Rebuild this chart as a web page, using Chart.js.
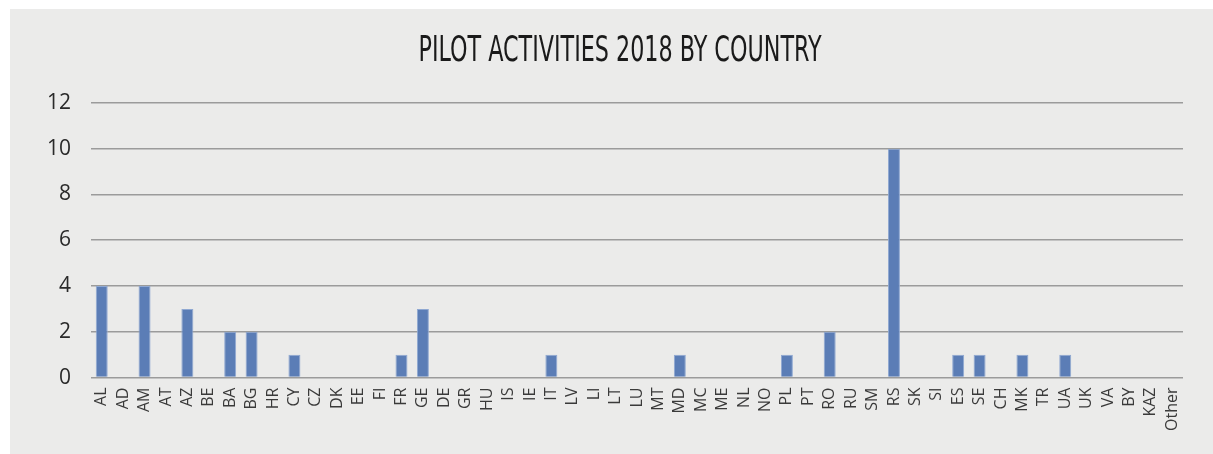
<!DOCTYPE html>
<html>
<head>
<meta charset="utf-8">
<script src="https://cdn.jsdelivr.net/npm/chart.js@4"></script>
<style>
  html, body { margin: 0; padding: 0; background: #ffffff; }
  #wrap { position: absolute; left: 10px; top: 9px; width: 1203px; height: 445px; background: #ebebea; }
</style>
</head>
<body>
<div id="wrap"><canvas id="pilotChart" width="1203" height="445"></canvas></div>
<script>
// country codes along the x axis
const countries = ['AL', 'AD', 'AM', 'AT', 'AZ', 'BE', 'BA', 'BG', 'HR', 'CY', 'CZ', 'DK', 'EE', 'FI', 'FR', 'GE',
  'DE', 'GR', 'HU', 'IS', 'IE', 'IT', 'LV', 'LI', 'LT', 'LU', 'MT', 'MD', 'MC', 'ME', 'NL', 'NO', 'PL', 'PT', 'RO',
  'RU', 'SM', 'RS', 'SK', 'SI', 'ES', 'SE', 'CH', 'MK', 'TR', 'UA', 'UK', 'VA', 'BY', 'KAZ', 'Other'];

// number of pilot activities per country
const activities = [4, 0, 4, 0, 3, 0, 2, 2, 0, 1, 0, 0, 0, 0, 1, 3,
  0, 0, 0, 0, 0, 1, 0, 0, 0, 0, 0, 1, 0, 0, 0, 0, 1, 0, 2,
  0, 0, 10, 0, 0, 1, 1, 0, 1, 0, 1, 0, 0, 0, 0, 0];

const yTicks = [0, 2, 4, 6, 8, 10, 12];
const chartTitle = 'PILOT ACTIVITIES 2018 BY COUNTRY';

// title in a condensed look: squeeze the text horizontally
const narrowTitle = {
  id: 'narrowTitle',
  afterDraw(chart) {
    const c = chart.ctx;
    c.save();
    c.font = '35px "DejaVu Sans Condensed", "Liberation Sans", sans-serif';
    c.fillStyle = '#1a1a1a';
    c.textAlign = 'center';
    c.textBaseline = 'alphabetic';
    const w = c.measureText(chartTitle).width;
    const sx = 403 / w;
    c.translate(610, 52);
    c.scale(sx, 1);
    c.fillText(chartTitle, 0, 0);
    c.restore();
  },
};

const ctx = document.getElementById('pilotChart').getContext('2d');
new Chart(ctx, {
  type: 'bar',
  data: {
    labels: countries,
    datasets: [
      {
        label: 'Pilot activities',
        data: activities,
        backgroundColor: '#5b7db6',
        borderColor: '#8fa8d2',
        borderWidth: 1,
        categoryPercentage: 1,
        barPercentage: 0.56,
      },
    ],
  },
  options: {
    responsive: false,
    animation: false,
    layout: { padding: { left: 17, right: 30, top: 94, bottom: 21 } },
    plugins: {
      legend: { display: false },
      tooltip: { enabled: false },
      title: { display: false },
    },
    scales: {
      x: {
        grid: { display: false },
        border: { display: false },
        ticks: {
          color: '#3a3a3a',
          font: { family: '"Open Sans", sans-serif', size: 16 },
          minRotation: 90,
          maxRotation: 90,
          autoSkip: false,
          padding: 2,
        },
      },
      y: {
        min: 0,
        max: 12,
        afterBuildTicks: (axis) => { axis.ticks = yTicks.map(v => ({ value: v })); },
        grid: { color: '#9b9b9b', lineWidth: 1.6, drawTicks: false },
        border: { display: false },
        ticks: {
          color: '#2a2a2a',
          font: { family: '"Open Sans", sans-serif', size: 21 },
          padding: 20,
        },
      },
    },
  },
  plugins: [narrowTitle],
});
</script>
</body>
</html>
